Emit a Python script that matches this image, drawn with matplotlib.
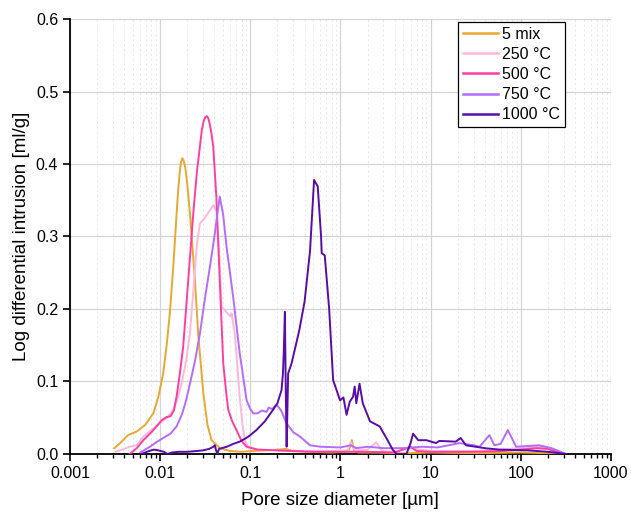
import matplotlib
matplotlib.use("Agg")
import matplotlib.pyplot as plt
from matplotlib.ticker import LogLocator, FixedLocator, NullFormatter

plt.rcParams['font.family'] = ['Liberation Sans', 'DejaVu Sans']

labels = ["5 mix", "250 °C", "500 °C", "750 °C", "1000 °C"]
colors = ["#E8A832", "#FFB8DC", "#FF3FA0", "#B46CFF", "#580CA8"]

x_mix = [0.0031, 0.0036, 0.0044, 0.0055, 0.0068, 0.0084, 0.0096, 0.0108, 0.0118, 0.0128,
         0.0140, 0.0152, 0.0158, 0.0164, 0.0170, 0.0176, 0.0182, 0.0190, 0.0200, 0.0214,
         0.0243, 0.0264, 0.0301, 0.0335, 0.0372, 0.046, 0.06, 0.08, 0.1, 0.15,
         0.2, 0.25, 0.3, 0.5, 0.8, 1.1, 1.25, 1.34, 1.42, 1.6,
         2.5, 5, 10, 30, 100, 200, 300]
y_mix = [0.008, 0.015, 0.026, 0.031, 0.040, 0.056, 0.080, 0.111, 0.150, 0.194,
         0.260, 0.330, 0.362, 0.386, 0.402, 0.408, 0.405, 0.395, 0.372, 0.332,
         0.240, 0.166, 0.084, 0.040, 0.019, 0.008, 0.004, 0.003, 0.004, 0.005,
         0.006, 0.007, 0.004, 0.003, 0.002, 0.003, 0.006, 0.019, 0.004, 0.002,
         0.002, 0.001, 0.002, 0.001, 0.002, 0.001, 0.0]

x_250 = [0.0032, 0.0038, 0.0046, 0.0055, 0.0065, 0.0080, 0.0100, 0.0120, 0.0140, 0.0158,
         0.0173, 0.0195, 0.0214, 0.0235, 0.0256, 0.0276, 0.0310, 0.0350, 0.0390, 0.0420,
         0.0450, 0.0480, 0.0540, 0.0600, 0.0621, 0.0672, 0.0720, 0.0763, 0.0820, 0.0870,
         0.095, 0.12, 0.2, 0.4, 0.8, 1.2, 1.3, 1.45, 2.0, 2.5,
         2.9, 4, 6, 10, 30, 100, 150, 200, 300]
y_250 = [0.003, 0.006, 0.010, 0.012, 0.024, 0.033, 0.043, 0.050, 0.061, 0.078,
         0.097, 0.130, 0.167, 0.230, 0.290, 0.318, 0.325, 0.335, 0.343, 0.335,
         0.280, 0.203, 0.196, 0.190, 0.194, 0.166, 0.120, 0.079, 0.040, 0.019,
         0.010, 0.006, 0.005, 0.004, 0.004, 0.005, 0.016, 0.005, 0.006, 0.016,
         0.004, 0.003, 0.008, 0.004, 0.004, 0.008, 0.010, 0.008, 0.0]

x_500 = [0.0046, 0.0055, 0.0065, 0.0080, 0.0094, 0.0105, 0.0118, 0.0130, 0.0142, 0.0152,
         0.0165, 0.0180, 0.0205, 0.0233, 0.0256, 0.0276, 0.0290, 0.0305, 0.0318, 0.0330,
         0.0342, 0.0355, 0.0370, 0.0388, 0.0420, 0.0458, 0.0501, 0.0540, 0.0569, 0.0630,
         0.0702, 0.080, 0.091, 0.12, 0.2, 0.3, 0.5, 1, 2, 4,
         6, 7, 10, 30, 60, 100, 150, 200, 300]
y_500 = [0.0, 0.008, 0.019, 0.030, 0.040, 0.047, 0.051, 0.052, 0.060, 0.079,
         0.110, 0.148, 0.240, 0.332, 0.390, 0.424, 0.447, 0.460, 0.465, 0.466,
         0.463, 0.455, 0.443, 0.424, 0.355, 0.240, 0.125, 0.085, 0.061, 0.045,
         0.033, 0.018, 0.010, 0.006, 0.005, 0.004, 0.003, 0.003, 0.003, 0.002,
         0.010, 0.004, 0.003, 0.003, 0.004, 0.006, 0.008, 0.007, 0.0]

x_750 = [0.0060, 0.0068, 0.0077, 0.0090, 0.0108, 0.0130, 0.0152, 0.0175, 0.0195, 0.0214,
         0.0245, 0.0276, 0.0310, 0.0356, 0.0400, 0.0430, 0.0458, 0.0500, 0.0545, 0.0645,
         0.0763, 0.0910, 0.1000, 0.1080, 0.1200, 0.1350, 0.1510, 0.1600, 0.1750, 0.1960,
         0.2200, 0.2530, 0.3000, 0.3560, 0.4600, 0.6, 1.0, 1.3, 1.5, 2,
         3, 5, 8, 12, 21, 30, 35, 45, 51, 60, 72, 89, 120, 160, 220, 318]
y_750 = [0.002, 0.006, 0.010, 0.016, 0.022, 0.028, 0.038, 0.055, 0.075, 0.097,
         0.130, 0.166, 0.210, 0.258, 0.300, 0.330, 0.355, 0.330, 0.286, 0.217,
         0.139, 0.074, 0.062, 0.056, 0.056, 0.060, 0.058, 0.064, 0.062, 0.068,
         0.060, 0.042, 0.030, 0.024, 0.012, 0.010, 0.009, 0.012, 0.008, 0.010,
         0.008, 0.008, 0.010, 0.009, 0.015, 0.012, 0.010, 0.026, 0.012, 0.014, 0.033, 0.010, 0.011, 0.012, 0.008, 0.0]

x_1000 = [0.0062, 0.0075, 0.0085, 0.0095, 0.0110, 0.0120, 0.0135, 0.0160, 0.0200, 0.0250,
          0.0300, 0.0350, 0.0390, 0.0405, 0.0415, 0.0430, 0.0450, 0.0550, 0.0650, 0.0763,
          0.0900, 0.1000, 0.1170, 0.1450, 0.1790, 0.2000, 0.2220, 0.2300, 0.2350, 0.2420,
          0.2480, 0.2530, 0.2580, 0.2630, 0.2870, 0.3200, 0.3500, 0.4000, 0.4600, 0.5100,
          0.5600, 0.6100, 0.6200, 0.6700, 0.7500, 0.8300, 0.9900, 1.0800, 1.1700, 1.2700,
          1.3800, 1.4400, 1.5000, 1.6300, 1.7700, 2.1300, 2.7300, 3.3000, 3.8000, 4.2000,
          5.4000, 6.0000, 6.4000, 7.3000, 9.0000, 11.5, 12.5, 19, 21.6, 24.7,
          40, 58, 120, 200, 318]
y_1000 = [0.0, 0.004, 0.006, 0.005, 0.003, 0.000, 0.002, 0.003, 0.003, 0.004,
          0.005, 0.007, 0.010, 0.012, 0.006, 0.0, 0.007, 0.010, 0.014, 0.017,
          0.022, 0.026, 0.033, 0.045, 0.061, 0.070, 0.088, 0.110, 0.139, 0.196,
          0.080, 0.010, 0.060, 0.111, 0.125, 0.150, 0.171, 0.210, 0.280, 0.378,
          0.369, 0.300, 0.277, 0.274, 0.200, 0.102, 0.074, 0.078, 0.054, 0.072,
          0.079, 0.093, 0.070, 0.097, 0.070, 0.045, 0.038, 0.020, 0.006, 0.0,
          0.0, 0.015, 0.028, 0.019, 0.019, 0.015, 0.018, 0.017, 0.022, 0.012,
          0.008, 0.006, 0.005, 0.003, 0.0]

series_x = [x_mix, x_250, x_500, x_750, x_1000]
series_y = [y_mix, y_250, y_500, y_750, y_1000]

fig = plt.figure(figsize=(6.31, 5.18), dpi=100)
ax = fig.add_axes([0.111, 0.1236, 0.857, 0.8397])

for xs, ys, c, lab in zip(series_x, series_y, colors, labels):
    ax.plot(xs, ys, color=c, lw=1.4, label=lab, zorder=3)

ax.set_xscale('log')
ax.set_xlim(0.001, 1000)
ax.set_ylim(0, 0.6)
ax.yaxis.set_major_locator(FixedLocator([0, 0.1, 0.2, 0.3, 0.4, 0.5, 0.6]))
ax.set_yticklabels(["0.0", "0.1", "0.2", "0.3", "0.4", "0.5", "0.6"])
ax.xaxis.set_major_locator(FixedLocator([0.001, 0.01, 0.1, 1, 10, 100, 1000]))
ax.set_xticklabels(["0.001", "0.01", "0.1", "1", "10", "100", "1000"])
ax.xaxis.set_minor_locator(LogLocator(base=10, subs=range(2, 10)))
ax.xaxis.set_minor_formatter(NullFormatter())

ax.grid(True, which='major', axis='both', color='#d4d4d4', lw=0.9, zorder=0)
ax.grid(True, which='minor', axis='x', color='#e8e8e8', lw=0.7, ls=(0, (2, 3)), zorder=0)
ax.set_axisbelow(True)

for s in ['top', 'right']:
    ax.spines[s].set_visible(False)
for s in ['left', 'bottom']:
    ax.spines[s].set_linewidth(1.3)
    ax.spines[s].set_color('black')

ax.tick_params(axis='both', which='major', direction='out', length=5, width=1.2, labelsize=11.5, colors='black')
ax.tick_params(axis='x', which='minor', direction='out', length=3, width=1.0)

ax.set_xlabel("Pore size diameter [µm]", fontsize=13.5, labelpad=8)
ax.set_ylabel("Log differential intrusion [ml/g]", fontsize=13.5, labelpad=4)

leg = ax.legend(loc='upper left', bbox_to_anchor=(0.717, 0.993), fontsize=11.5,
                frameon=True, fancybox=False, edgecolor='black', framealpha=1,
                handlelength=2.2, labelspacing=0.32, borderpad=0.3, handletextpad=0.3,
                borderaxespad=0)
leg.get_frame().set_linewidth(0.9)
for line in leg.get_lines():
    line.set_linewidth(1.8)

fig.savefig("out.png", dpi=100)
